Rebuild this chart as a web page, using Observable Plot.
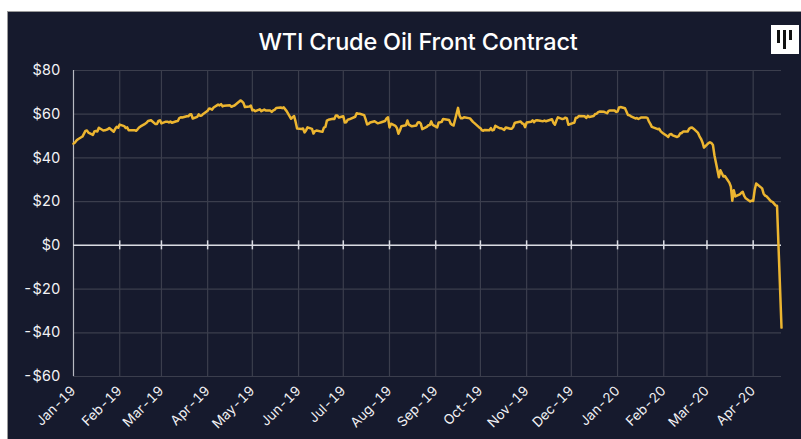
<!DOCTYPE html>
<html>
<head>
<meta charset="utf-8">
<script src="https://cdn.jsdelivr.net/npm/d3@7"></script>
<script src="https://cdn.jsdelivr.net/npm/@observablehq/plot@0.6"></script>
<style>
  html, body { margin: 0; padding: 0; background: #ffffff; width: 801px; height: 439px; overflow: hidden; }
  #panel { position: absolute; left: 7px; top: 11px; width: 800px; height: 430px; background: #161a2d; border-left: 1px solid #9a9a9a; border-top: 1px solid #9a9a9a; }
  #title { position: absolute; left: 0; top: 27px; width: 836px; text-align: center; color: #ffffff; font-family: Inter, "Open Sans", sans-serif; font-size: 23.5px; font-weight: 500; letter-spacing: -0.2px; }
  #logo { position: absolute; left: 771px; top: 25px; width: 28px; height: 29px; background: #ffffff; }
  .bar { position: absolute; background: #111; width: 3px; }
  #chart { position: absolute; left: 0; top: 0; }
</style>
</head>
<body>
<div id="panel"></div>
<div id="title">WTI Crude Oil Front Contract</div>
<div id="logo"><div class="bar" style="left:6px;top:5px;height:13px"></div><div class="bar" style="left:12px;top:5px;height:19px"></div><div class="bar" style="left:18px;top:5px;height:10px"></div></div>
<div id="chart"></div>
<script>
// Monthly series of front-month WTI settlement prices (USD/bbl), in trading order
const months = ["2019-01","2019-02","2019-03","2019-04","2019-05","2019-06","2019-07","2019-08","2019-09","2019-10","2019-11","2019-12","2020-01","2020-02","2020-03","2020-04"];
const jan19 = [46.54,47.09,47.96,48.52,49.78,52.36,52.59,51.59,50.51,52.11,52.31,52.07,53.80,52.57,52.62,53.13,53.69,51.99,53.31,54.23,53.79];
const feb19 = [55.26,54.56,53.66,54.01,52.64,52.72,52.41,53.10,53.90,54.41,55.59,56.09,56.92,57.26,55.48,55.50,56.94,57.22];
const mar19 = [55.80,56.59,56.56,56.22,56.66,56.07,56.79,56.87,58.26,58.61,58.52,59.09,59.03,59.83,59.98,58.04,58.82,59.94,59.30,59.41,60.14];
const apr19 = [61.59,62.58,62.46,62.10,63.08,64.40,64.05,64.61,63.58,63.89,64.05,63.40,63.76,64.00,65.70,66.30,65.89,65.21,63.30,63.50,63.91];
const may19 = [61.81,61.94,61.40,62.25,61.40,62.12,61.70,61.66,61.04,61.78,62.02,62.87,63.10,62.76,63.13,61.42,57.91,58.63,59.14,56.59,53.50];
const jun19 = [53.25,53.48,51.68,52.59,53.99,53.26,51.14,52.28,52.51,51.93,53.90,54.19,57.07,57.43,57.90,57.83,59.38,59.43,58.47];
const jul19 = [59.09,56.25,56.34,57.51,57.66,58.83,60.43,60.20,60.21,59.58,57.62,55.30,55.63,56.22,56.77,55.88,56.02,56.20,56.87,58.05,58.58];
const aug19 = [53.95,55.66,54.69,53.63,51.09,52.54,54.50,54.93,57.10,55.23,54.47,54.87,56.21,56.34,55.68,53.17,54.17,54.93,55.10,56.71,55.10];
const sep19 = [53.94,56.26,56.30,56.52,57.85,57.40,55.75,55.09,54.85,62.90,59.34,58.11,58.13,58.64,58.09,57.29,56.49,55.91,54.07];
const oct19 = [53.62,52.64,52.45,52.81,52.63,53.63,52.59,52.81,54.70,53.59,53.59,52.81,53.93,53.36,53.31,54.16,55.97,56.23,56.66,55.81,55.54,54.06];
const nov19 = [56.20,56.54,57.23,56.35,57.15,57.24,56.86,56.80,57.12,56.77,57.72,56.05,55.21,57.11,58.58,57.77,58.01,58.41,58.11,55.17];
const dec19 = [55.96,56.10,58.43,58.43,59.20,59.02,58.25,59.24,58.76,59.18,60.07,60.21,60.94,61.22,61.11,60.44,61.52,61.72,61.68,61.06];
const jan20 = [61.18,63.05,63.27,62.70,59.61,59.56,59.04,58.08,58.23,57.81,58.52,58.54,58.34,56.74,55.59,54.19,53.14,53.33,52.14,51.56];
const feb20 = [50.11,49.61,50.75,50.95,50.32,49.57,49.94,51.17,51.42,52.05,52.05,53.29,53.78,53.88,53.38,51.43,49.90,48.73,47.09,44.76];
const mar20 = [46.75,47.18,46.78,45.90,41.28,31.13,34.36,32.98,31.50,31.73,28.70,26.95,20.37,25.22,22.39,23.36,24.01,24.49,22.60,21.51,20.09,20.48];
const apr20 = [20.31,25.32,28.34,26.08,23.63,22.76,22.41,20.11,19.87,18.27,18.12,-37.63];
const monthValues = [jan19,feb19,mar19,apr19,may19,jun19,jul19,aug19,sep19,oct19,nov19,dec19,jan20,feb20,mar20,apr20];
const lastDate = "2020-04-20";
const yTicks = [-60,-40,-20,0,20,40,60,80];

// Place each month's trading days on that month's weekdays, in order
function tradingDays(monthStr, n, endStr) {
  const [y, m] = monthStr.split("-").map(Number);
  const end = endStr ? new Date(endStr) : new Date(Date.UTC(y, m, 0));
  const all = [];
  for (let d = new Date(Date.UTC(y, m - 1, 1)); d <= end; d = new Date(d.getTime() + 864e5)) {
    const wd = d.getUTCDay();
    if (wd !== 0 && wd !== 6) all.push(d);
  }
  const out = [];
  for (let i = 0; i < n; i++) out.push(all[Math.round(i * (all.length - 1) / Math.max(1, n - 1))]);
  return out;
}

const data = [];
months.forEach((mo, i) => {
  const vals = monthValues[i];
  const days = tradingDays(mo, vals.length, i === months.length - 1 ? lastDate : null);
  vals.forEach((v, j) => data.push({date: days[j], price: v}));
});

const monthTicks = months.map(m => new Date(m + "-01"));
const start = new Date("2019-01-01");
const end = new Date(lastDate);

const fmtMonth = d3.utcFormat("%b-%y");
const fmtDollar = v => (v < 0 ? "-$" : "$") + Math.abs(v);

const chart = Plot.plot({
  width: 801,
  height: 439,
  marginLeft: 73,
  marginRight: 20,
  marginTop: 70,
  marginBottom: 63,
  style: { background: "transparent", color: "#ffffff", fontFamily: "Inter, 'Open Sans', sans-serif", fontSize: "14px" },
  x: { type: "utc", domain: [start, end] },
  y: { domain: [-60, 80] },
  marks: [
    Plot.ruleY(yTicks, { stroke: "#3b3e4d", strokeWidth: 1.2 }),
    Plot.ruleX(monthTicks.slice(1), { stroke: "#3b3e4d", strokeWidth: 1.2 }),
    Plot.ruleX([start], { stroke: "#b8bac2", strokeWidth: 1.2 }),
    Plot.ruleY([0], { stroke: "#d9dbe2", strokeWidth: 1.5 }),
    Plot.ruleX(monthTicks.slice(1), { y1: 0, y2: 0, insetTop: -4.5, insetBottom: -4.5, stroke: "#d9dbe2", strokeWidth: 1.5 }),
    Plot.axisY(yTicks, { tickSize: 0, tickPadding: 13, tickFormat: fmtDollar, fontSize: 14.5, fill: "#f2f2f5", label: null }),
    Plot.axisX(monthTicks, { tickSize: 0, tickPadding: 12, tickRotate: -45, tickFormat: fmtMonth, fontSize: 13.5, fill: "#f2f2f5", label: null }),
    Plot.line(data, { x: "date", y: "price", stroke: "#ecb530", strokeWidth: 2.5, strokeLinejoin: "round" })
  ]
});
document.getElementById("chart").appendChild(chart);
</script>
</body>
</html>
